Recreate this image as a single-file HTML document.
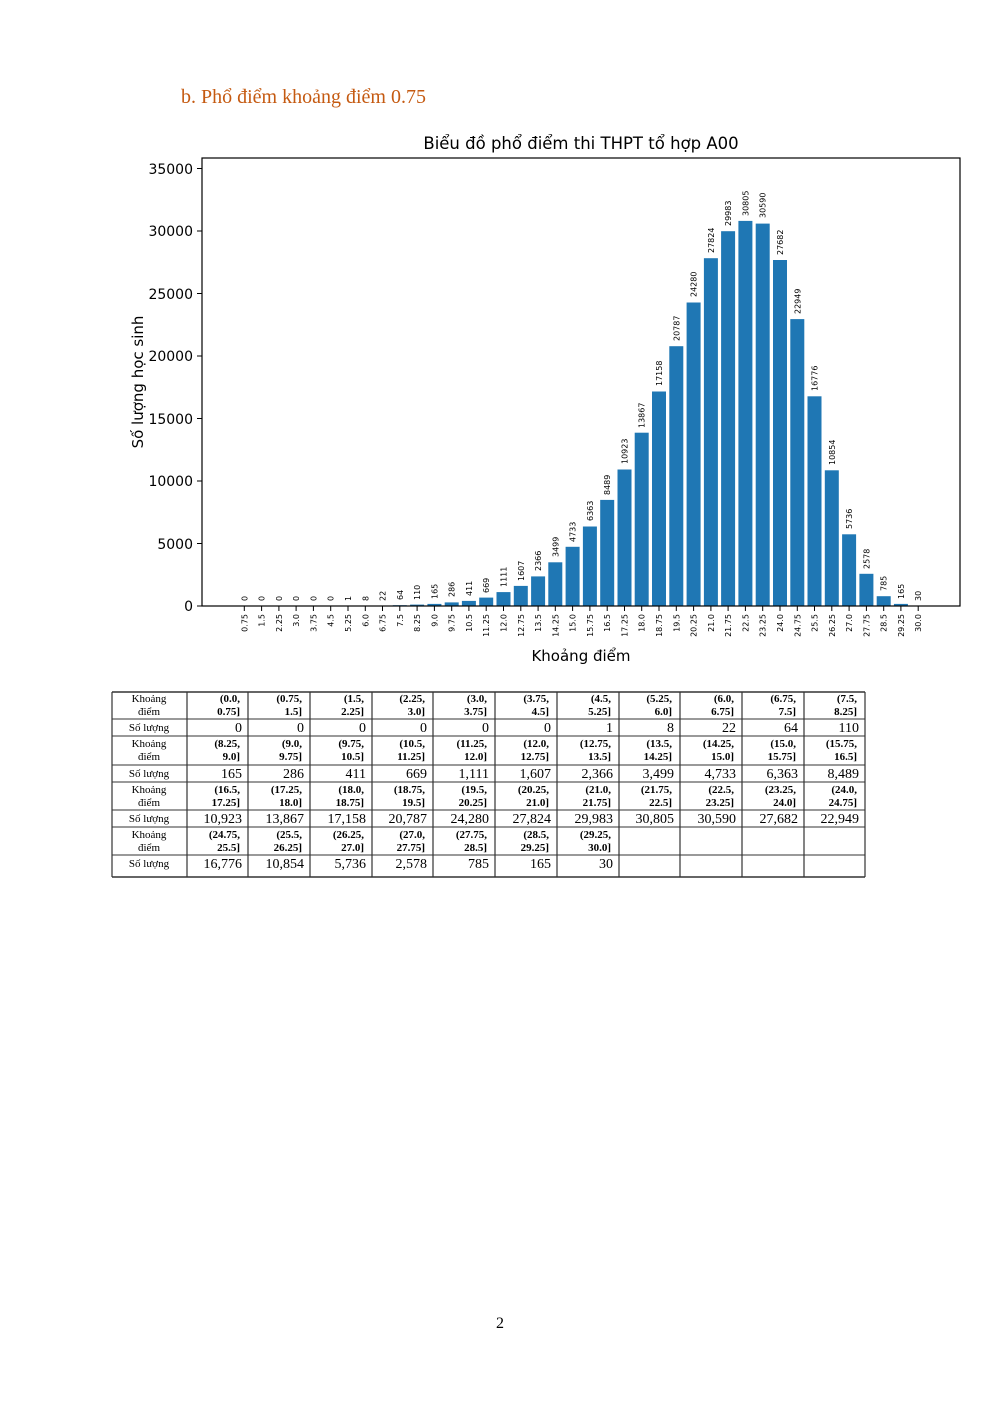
<!DOCTYPE html>
<html><head><meta charset="utf-8"><style>
body{margin:0;background:#fff}
svg{display:block}
.b rect{fill:#1f77b4}
.b line{stroke:#000}
.tk{font-size:8px;text-anchor:end}
.vl{font-size:8px;text-anchor:start}
.h{font-size:11px;text-anchor:middle}
.r{font-size:11px;font-weight:bold;text-anchor:end}
.n{font-size:14px;text-anchor:end}
</style></head><body>
<svg width="1000" height="1414" xmlns="http://www.w3.org/2000/svg" font-family="DejaVu Sans, sans-serif">
<rect width="1000" height="1414" fill="#fff"/>
<text x="181" y="103" font-family="Liberation Serif, serif" font-size="20" fill="#c55a11">b.  Phổ điểm khoảng điểm 0.75</text>
<text x="581" y="149" text-anchor="middle" font-size="16.5">Biểu đồ phổ điểm thi THPT tổ hợp A00</text>
<g font-size="14" text-anchor="end">
<text x="193" y="611">0</text><text x="193" y="549">5000</text><text x="193" y="486">10000</text><text x="193" y="424">15000</text><text x="193" y="361">20000</text><text x="193" y="299">25000</text><text x="193" y="236">30000</text><text x="193" y="174">35000</text>
</g>
<g stroke="#000"><line x1="197" x2="202" y1="606" y2="606"/><line x1="197" x2="202" y1="543.5" y2="543.5"/><line x1="197" x2="202" y1="481" y2="481"/><line x1="197" x2="202" y1="418.5" y2="418.5"/><line x1="197" x2="202" y1="356" y2="356"/><line x1="197" x2="202" y1="293.5" y2="293.5"/><line x1="197" x2="202" y1="231" y2="231"/><line x1="197" x2="202" y1="168.5" y2="168.5"/></g>
<text transform="translate(143,382) rotate(-90)" text-anchor="middle" font-size="15">Số lượng học sinh</text>
<text x="581" y="661" text-anchor="middle" font-size="15">Khoảng điểm</text>
<g class="b">
<g transform="translate(244.3,0)"><line x1="0" x2="0" y1="606" y2="611"/><text class="tk" transform="translate(3,614) rotate(-90)">0.75</text><text class="vl" transform="translate(3,601) rotate(-90)">0</text></g>
<g transform="translate(261.6,0)"><line x1="0" x2="0" y1="606" y2="611"/><text class="tk" transform="translate(3,614) rotate(-90)">1.5</text><text class="vl" transform="translate(3,601) rotate(-90)">0</text></g>
<g transform="translate(278.9,0)"><line x1="0" x2="0" y1="606" y2="611"/><text class="tk" transform="translate(3,614) rotate(-90)">2.25</text><text class="vl" transform="translate(3,601) rotate(-90)">0</text></g>
<g transform="translate(296.1,0)"><line x1="0" x2="0" y1="606" y2="611"/><text class="tk" transform="translate(3,614) rotate(-90)">3.0</text><text class="vl" transform="translate(3,601) rotate(-90)">0</text></g>
<g transform="translate(313.4,0)"><line x1="0" x2="0" y1="606" y2="611"/><text class="tk" transform="translate(3,614) rotate(-90)">3.75</text><text class="vl" transform="translate(3,601) rotate(-90)">0</text></g>
<g transform="translate(330.7,0)"><line x1="0" x2="0" y1="606" y2="611"/><text class="tk" transform="translate(3,614) rotate(-90)">4.5</text><text class="vl" transform="translate(3,601) rotate(-90)">0</text></g>
<g transform="translate(348.0,0)"><line x1="0" x2="0" y1="606" y2="611"/><text class="tk" transform="translate(3,614) rotate(-90)">5.25</text><text class="vl" transform="translate(3,601) rotate(-90)">1</text></g>
<g transform="translate(365.3,0)"><rect x="-7" y="605.9" width="14" height="0.1"/><line x1="0" x2="0" y1="606" y2="611"/><text class="tk" transform="translate(3,614) rotate(-90)">6.0</text><text class="vl" transform="translate(3,601) rotate(-90)">8</text></g>
<g transform="translate(382.5,0)"><rect x="-7" y="605.7" width="14" height="0.3"/><line x1="0" x2="0" y1="606" y2="611"/><text class="tk" transform="translate(3,614) rotate(-90)">6.75</text><text class="vl" transform="translate(3,601) rotate(-90)">22</text></g>
<g transform="translate(399.8,0)"><rect x="-7" y="605.2" width="14" height="0.8"/><line x1="0" x2="0" y1="606" y2="611"/><text class="tk" transform="translate(3,614) rotate(-90)">7.5</text><text class="vl" transform="translate(3,600) rotate(-90)">64</text></g>
<g transform="translate(417.1,0)"><rect x="-7" y="604.6" width="14" height="1.4"/><line x1="0" x2="0" y1="606" y2="611"/><text class="tk" transform="translate(3,614) rotate(-90)">8.25</text><text class="vl" transform="translate(3,600) rotate(-90)">110</text></g>
<g transform="translate(434.4,0)"><rect x="-7" y="603.9" width="14" height="2.1"/><line x1="0" x2="0" y1="606" y2="611"/><text class="tk" transform="translate(3,614) rotate(-90)">9.0</text><text class="vl" transform="translate(3,599) rotate(-90)">165</text></g>
<g transform="translate(451.7,0)"><rect x="-7" y="602.4" width="14" height="3.6"/><line x1="0" x2="0" y1="606" y2="611"/><text class="tk" transform="translate(3,614) rotate(-90)">9.75</text><text class="vl" transform="translate(3,597) rotate(-90)">286</text></g>
<g transform="translate(468.9,0)"><rect x="-7" y="600.9" width="14" height="5.1"/><line x1="0" x2="0" y1="606" y2="611"/><text class="tk" transform="translate(3,614) rotate(-90)">10.5</text><text class="vl" transform="translate(3,596) rotate(-90)">411</text></g>
<g transform="translate(486.2,0)"><rect x="-7" y="597.6" width="14" height="8.4"/><line x1="0" x2="0" y1="606" y2="611"/><text class="tk" transform="translate(3,614) rotate(-90)">11.25</text><text class="vl" transform="translate(3,593) rotate(-90)">669</text></g>
<g transform="translate(503.5,0)"><rect x="-7" y="592.1" width="14" height="13.9"/><line x1="0" x2="0" y1="606" y2="611"/><text class="tk" transform="translate(3,614) rotate(-90)">12.0</text><text class="vl" transform="translate(3,587) rotate(-90)">1111</text></g>
<g transform="translate(520.8,0)"><rect x="-7" y="585.9" width="14" height="20.1"/><line x1="0" x2="0" y1="606" y2="611"/><text class="tk" transform="translate(3,614) rotate(-90)">12.75</text><text class="vl" transform="translate(3,581) rotate(-90)">1607</text></g>
<g transform="translate(538.1,0)"><rect x="-7" y="576.4" width="14" height="29.6"/><line x1="0" x2="0" y1="606" y2="611"/><text class="tk" transform="translate(3,614) rotate(-90)">13.5</text><text class="vl" transform="translate(3,571) rotate(-90)">2366</text></g>
<g transform="translate(555.3,0)"><rect x="-7" y="562.3" width="14" height="43.7"/><line x1="0" x2="0" y1="606" y2="611"/><text class="tk" transform="translate(3,614) rotate(-90)">14.25</text><text class="vl" transform="translate(3,557) rotate(-90)">3499</text></g>
<g transform="translate(572.6,0)"><rect x="-7" y="546.8" width="14" height="59.2"/><line x1="0" x2="0" y1="606" y2="611"/><text class="tk" transform="translate(3,614) rotate(-90)">15.0</text><text class="vl" transform="translate(3,542) rotate(-90)">4733</text></g>
<g transform="translate(589.9,0)"><rect x="-7" y="526.5" width="14" height="79.5"/><line x1="0" x2="0" y1="606" y2="611"/><text class="tk" transform="translate(3,614) rotate(-90)">15.75</text><text class="vl" transform="translate(3,521) rotate(-90)">6363</text></g>
<g transform="translate(607.2,0)"><rect x="-7" y="499.9" width="14" height="106.1"/><line x1="0" x2="0" y1="606" y2="611"/><text class="tk" transform="translate(3,614) rotate(-90)">16.5</text><text class="vl" transform="translate(3,495) rotate(-90)">8489</text></g>
<g transform="translate(624.5,0)"><rect x="-7" y="469.5" width="14" height="136.5"/><line x1="0" x2="0" y1="606" y2="611"/><text class="tk" transform="translate(3,614) rotate(-90)">17.25</text><text class="vl" transform="translate(3,464) rotate(-90)">10923</text></g>
<g transform="translate(641.7,0)"><rect x="-7" y="432.7" width="14" height="173.3"/><line x1="0" x2="0" y1="606" y2="611"/><text class="tk" transform="translate(3,614) rotate(-90)">18.0</text><text class="vl" transform="translate(3,428) rotate(-90)">13867</text></g>
<g transform="translate(659.0,0)"><rect x="-7" y="391.5" width="14" height="214.5"/><line x1="0" x2="0" y1="606" y2="611"/><text class="tk" transform="translate(3,614) rotate(-90)">18.75</text><text class="vl" transform="translate(3,386) rotate(-90)">17158</text></g>
<g transform="translate(676.3,0)"><rect x="-7" y="346.2" width="14" height="259.8"/><line x1="0" x2="0" y1="606" y2="611"/><text class="tk" transform="translate(3,614) rotate(-90)">19.5</text><text class="vl" transform="translate(3,341) rotate(-90)">20787</text></g>
<g transform="translate(693.6,0)"><rect x="-7" y="302.5" width="14" height="303.5"/><line x1="0" x2="0" y1="606" y2="611"/><text class="tk" transform="translate(3,614) rotate(-90)">20.25</text><text class="vl" transform="translate(3,297) rotate(-90)">24280</text></g>
<g transform="translate(710.9,0)"><rect x="-7" y="258.2" width="14" height="347.8"/><line x1="0" x2="0" y1="606" y2="611"/><text class="tk" transform="translate(3,614) rotate(-90)">21.0</text><text class="vl" transform="translate(3,253) rotate(-90)">27824</text></g>
<g transform="translate(728.1,0)"><rect x="-7" y="231.2" width="14" height="374.8"/><line x1="0" x2="0" y1="606" y2="611"/><text class="tk" transform="translate(3,614) rotate(-90)">21.75</text><text class="vl" transform="translate(3,226) rotate(-90)">29983</text></g>
<g transform="translate(745.4,0)"><rect x="-7" y="220.9" width="14" height="385.1"/><line x1="0" x2="0" y1="606" y2="611"/><text class="tk" transform="translate(3,614) rotate(-90)">22.5</text><text class="vl" transform="translate(3,216) rotate(-90)">30805</text></g>
<g transform="translate(762.7,0)"><rect x="-7" y="223.6" width="14" height="382.4"/><line x1="0" x2="0" y1="606" y2="611"/><text class="tk" transform="translate(3,614) rotate(-90)">23.25</text><text class="vl" transform="translate(3,218) rotate(-90)">30590</text></g>
<g transform="translate(780.0,0)"><rect x="-7" y="260.0" width="14" height="346.0"/><line x1="0" x2="0" y1="606" y2="611"/><text class="tk" transform="translate(3,614) rotate(-90)">24.0</text><text class="vl" transform="translate(3,255) rotate(-90)">27682</text></g>
<g transform="translate(797.3,0)"><rect x="-7" y="319.1" width="14" height="286.9"/><line x1="0" x2="0" y1="606" y2="611"/><text class="tk" transform="translate(3,614) rotate(-90)">24.75</text><text class="vl" transform="translate(3,314) rotate(-90)">22949</text></g>
<g transform="translate(814.5,0)"><rect x="-7" y="396.3" width="14" height="209.7"/><line x1="0" x2="0" y1="606" y2="611"/><text class="tk" transform="translate(3,614) rotate(-90)">25.5</text><text class="vl" transform="translate(3,391) rotate(-90)">16776</text></g>
<g transform="translate(831.8,0)"><rect x="-7" y="470.3" width="14" height="135.7"/><line x1="0" x2="0" y1="606" y2="611"/><text class="tk" transform="translate(3,614) rotate(-90)">26.25</text><text class="vl" transform="translate(3,465) rotate(-90)">10854</text></g>
<g transform="translate(849.1,0)"><rect x="-7" y="534.3" width="14" height="71.7"/><line x1="0" x2="0" y1="606" y2="611"/><text class="tk" transform="translate(3,614) rotate(-90)">27.0</text><text class="vl" transform="translate(3,529) rotate(-90)">5736</text></g>
<g transform="translate(866.4,0)"><rect x="-7" y="573.8" width="14" height="32.2"/><line x1="0" x2="0" y1="606" y2="611"/><text class="tk" transform="translate(3,614) rotate(-90)">27.75</text><text class="vl" transform="translate(3,569) rotate(-90)">2578</text></g>
<g transform="translate(883.7,0)"><rect x="-7" y="596.2" width="14" height="9.8"/><line x1="0" x2="0" y1="606" y2="611"/><text class="tk" transform="translate(3,614) rotate(-90)">28.5</text><text class="vl" transform="translate(3,591) rotate(-90)">785</text></g>
<g transform="translate(900.9,0)"><rect x="-7" y="603.9" width="14" height="2.1"/><line x1="0" x2="0" y1="606" y2="611"/><text class="tk" transform="translate(3,614) rotate(-90)">29.25</text><text class="vl" transform="translate(3,599) rotate(-90)">165</text></g>
<g transform="translate(918.2,0)"><rect x="-7" y="605.6" width="14" height="0.4"/><line x1="0" x2="0" y1="606" y2="611"/><text class="tk" transform="translate(3,614) rotate(-90)">30.0</text><text class="vl" transform="translate(3,601) rotate(-90)">30</text></g>
</g>
<rect x="202" y="158" width="758" height="448" fill="none" stroke="#000" stroke-width="1.2"/>

<g font-family="Liberation Serif, serif">
<!-- block 1 -->
<text class="h" x="149" y="702">Khoảng</text><text class="h" x="149" y="715">điểm</text><text class="h" x="149" y="731">Số lượng</text>
<text class="r" x="240" y="702">(0.0,</text><text class="r" x="240" y="715">0.75]</text><text class="n" x="242" y="732">0</text>
<text class="r" x="302" y="702">(0.75,</text><text class="r" x="302" y="715">1.5]</text><text class="n" x="304" y="732">0</text>
<text class="r" x="364" y="702">(1.5,</text><text class="r" x="364" y="715">2.25]</text><text class="n" x="366" y="732">0</text>
<text class="r" x="425" y="702">(2.25,</text><text class="r" x="425" y="715">3.0]</text><text class="n" x="427" y="732">0</text>
<text class="r" x="487" y="702">(3.0,</text><text class="r" x="487" y="715">3.75]</text><text class="n" x="489" y="732">0</text>
<text class="r" x="549" y="702">(3.75,</text><text class="r" x="549" y="715">4.5]</text><text class="n" x="551" y="732">0</text>
<text class="r" x="611" y="702">(4.5,</text><text class="r" x="611" y="715">5.25]</text><text class="n" x="613" y="732">1</text>
<text class="r" x="672" y="702">(5.25,</text><text class="r" x="672" y="715">6.0]</text><text class="n" x="674" y="732">8</text>
<text class="r" x="734" y="702">(6.0,</text><text class="r" x="734" y="715">6.75]</text><text class="n" x="736" y="732">22</text>
<text class="r" x="796" y="702">(6.75,</text><text class="r" x="796" y="715">7.5]</text><text class="n" x="798" y="732">64</text>
<text class="r" x="857" y="702">(7.5,</text><text class="r" x="857" y="715">8.25]</text><text class="n" x="859" y="732">110</text>
<!-- block 2 -->
<text class="h" x="149" y="747">Khoảng</text><text class="h" x="149" y="760">điểm</text><text class="h" x="149" y="777">Số lượng</text>
<text class="r" x="240" y="747">(8.25,</text><text class="r" x="240" y="760">9.0]</text><text class="n" x="242" y="778">165</text>
<text class="r" x="302" y="747">(9.0,</text><text class="r" x="302" y="760">9.75]</text><text class="n" x="304" y="778">286</text>
<text class="r" x="364" y="747">(9.75,</text><text class="r" x="364" y="760">10.5]</text><text class="n" x="366" y="778">411</text>
<text class="r" x="425" y="747">(10.5,</text><text class="r" x="425" y="760">11.25]</text><text class="n" x="427" y="778">669</text>
<text class="r" x="487" y="747">(11.25,</text><text class="r" x="487" y="760">12.0]</text><text class="n" x="489" y="778">1,111</text>
<text class="r" x="549" y="747">(12.0,</text><text class="r" x="549" y="760">12.75]</text><text class="n" x="551" y="778">1,607</text>
<text class="r" x="611" y="747">(12.75,</text><text class="r" x="611" y="760">13.5]</text><text class="n" x="613" y="778">2,366</text>
<text class="r" x="672" y="747">(13.5,</text><text class="r" x="672" y="760">14.25]</text><text class="n" x="674" y="778">3,499</text>
<text class="r" x="734" y="747">(14.25,</text><text class="r" x="734" y="760">15.0]</text><text class="n" x="736" y="778">4,733</text>
<text class="r" x="796" y="747">(15.0,</text><text class="r" x="796" y="760">15.75]</text><text class="n" x="798" y="778">6,363</text>
<text class="r" x="857" y="747">(15.75,</text><text class="r" x="857" y="760">16.5]</text><text class="n" x="859" y="778">8,489</text>
<!-- block 3 -->
<text class="h" x="149" y="793">Khoảng</text><text class="h" x="149" y="806">điểm</text><text class="h" x="149" y="822">Số lượng</text>
<text class="r" x="240" y="793">(16.5,</text><text class="r" x="240" y="806">17.25]</text><text class="n" x="242" y="823">10,923</text>
<text class="r" x="302" y="793">(17.25,</text><text class="r" x="302" y="806">18.0]</text><text class="n" x="304" y="823">13,867</text>
<text class="r" x="364" y="793">(18.0,</text><text class="r" x="364" y="806">18.75]</text><text class="n" x="366" y="823">17,158</text>
<text class="r" x="425" y="793">(18.75,</text><text class="r" x="425" y="806">19.5]</text><text class="n" x="427" y="823">20,787</text>
<text class="r" x="487" y="793">(19.5,</text><text class="r" x="487" y="806">20.25]</text><text class="n" x="489" y="823">24,280</text>
<text class="r" x="549" y="793">(20.25,</text><text class="r" x="549" y="806">21.0]</text><text class="n" x="551" y="823">27,824</text>
<text class="r" x="611" y="793">(21.0,</text><text class="r" x="611" y="806">21.75]</text><text class="n" x="613" y="823">29,983</text>
<text class="r" x="672" y="793">(21.75,</text><text class="r" x="672" y="806">22.5]</text><text class="n" x="674" y="823">30,805</text>
<text class="r" x="734" y="793">(22.5,</text><text class="r" x="734" y="806">23.25]</text><text class="n" x="736" y="823">30,590</text>
<text class="r" x="796" y="793">(23.25,</text><text class="r" x="796" y="806">24.0]</text><text class="n" x="798" y="823">27,682</text>
<text class="r" x="857" y="793">(24.0,</text><text class="r" x="857" y="806">24.75]</text><text class="n" x="859" y="823">22,949</text>
<!-- block 4 -->
<text class="h" x="149" y="838">Khoảng</text><text class="h" x="149" y="851">điểm</text><text class="h" x="149" y="867">Số lượng</text>
<text class="r" x="240" y="838">(24.75,</text><text class="r" x="240" y="851">25.5]</text><text class="n" x="242" y="868">16,776</text>
<text class="r" x="302" y="838">(25.5,</text><text class="r" x="302" y="851">26.25]</text><text class="n" x="304" y="868">10,854</text>
<text class="r" x="364" y="838">(26.25,</text><text class="r" x="364" y="851">27.0]</text><text class="n" x="366" y="868">5,736</text>
<text class="r" x="425" y="838">(27.0,</text><text class="r" x="425" y="851">27.75]</text><text class="n" x="427" y="868">2,578</text>
<text class="r" x="487" y="838">(27.75,</text><text class="r" x="487" y="851">28.5]</text><text class="n" x="489" y="868">785</text>
<text class="r" x="549" y="838">(28.5,</text><text class="r" x="549" y="851">29.25]</text><text class="n" x="551" y="868">165</text>
<text class="r" x="611" y="838">(29.25,</text><text class="r" x="611" y="851">30.0]</text><text class="n" x="613" y="868">30</text>
</g>
<g stroke="#333" stroke-width="1">
<line x1="112" x2="865" y1="692" y2="692" stroke-width="1.5"/><line x1="112" x2="865" y1="719" y2="719"/><line x1="112" x2="865" y1="736" y2="736"/><line x1="112" x2="865" y1="765" y2="765"/><line x1="112" x2="865" y1="782" y2="782"/><line x1="112" x2="865" y1="810" y2="810"/><line x1="112" x2="865" y1="827" y2="827"/><line x1="112" x2="865" y1="855" y2="855"/><line x1="112" x2="865" y1="877" y2="877" stroke-width="1.5"/>
<g stroke-width="1.2">
<line x1="112" x2="112" y1="692" y2="877"/><line x1="187" x2="187" y1="692" y2="877"/><line x1="248" x2="248" y1="692" y2="877"/><line x1="310" x2="310" y1="692" y2="877"/><line x1="372" x2="372" y1="692" y2="877"/><line x1="433" x2="433" y1="692" y2="877"/><line x1="495" x2="495" y1="692" y2="877"/><line x1="557" x2="557" y1="692" y2="877"/><line x1="619" x2="619" y1="692" y2="877"/><line x1="680" x2="680" y1="692" y2="877"/><line x1="742" x2="742" y1="692" y2="877"/><line x1="804" x2="804" y1="692" y2="877"/><line x1="865" x2="865" y1="692" y2="877"/>
</g>
</g>
<text x="500" y="1328" text-anchor="middle" font-family="Liberation Serif, serif" font-size="16">2</text>
</svg>
</body></html>
